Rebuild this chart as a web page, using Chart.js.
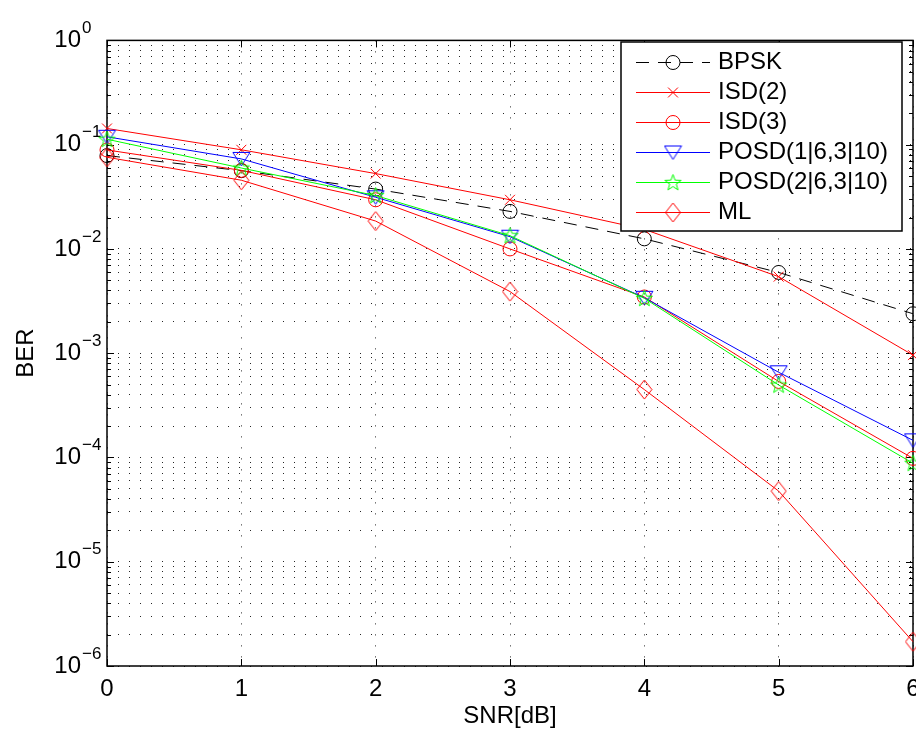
<!DOCTYPE html>
<html>
<head>
<meta charset="utf-8">
<script src="https://cdn.jsdelivr.net/npm/chart.js@4.4.0/dist/chart.umd.min.js"></script>
<style>
  html, body { margin: 0; padding: 0; overflow: hidden; background: #fff; }
  #wrap { width: 960px; height: 735px; }
</style>
</head>
<body>
<div id="wrap"><canvas id="c" width="960" height="735"></canvas></div>
<script>
// --- data ---
const SNR = [0, 1, 2, 3, 4, 5, 6];
const BPSK  = [0.0786, 0.0563, 0.0375, 0.0229, 0.0125, 0.00595, 0.00239];
const ISD2  = [0.143, 0.0893, 0.0528, 0.0296, 0.0154, 0.00542, 0.000958];
const ISD3  = [0.089, 0.0567, 0.0296, 0.0100, 0.00346, 0.000536, 0.000098];
const POSD1 = [0.119, 0.073, 0.0313, 0.0131, 0.00340, 0.000656, 0.000146];
const POSD2 = [0.1127, 0.0597, 0.0325, 0.0134, 0.00336, 0.000495, 0.000088];
const ML    = [0.0757, 0.0456, 0.0185, 0.0039, 0.000448, 0.0000476, 0.00000171];

const X_TICKS = [0, 1, 2, 3, 4, 5, 6];
const Y_DECADES = [-6, -5, -4, -3, -2, -1, 0];
const LABELS = ['BPSK', 'ISD(2)', 'ISD(3)', 'POSD(1|6,3|10)', 'POSD(2|6,3|10)', 'ML'];

const FAMILY = "'Liberation Sans', 'DejaVu Sans', Arial, sans-serif";
const FONT = { family: FAMILY, size: 24 };
const GRID = 'rgba(0,0,0,0.85)';

// --- marker shapes (matlab style) ---
function markerCanvas(w, h, color, path) {
  const c = document.createElement('canvas');
  c.width = w; c.height = h;
  const g = c.getContext('2d');
  g.strokeStyle = color;
  g.lineWidth = 1;
  g.beginPath();
  path(g, w, h);
  g.closePath();
  g.stroke();
  return c;
}
const triDown = markerCanvas(19, 16, '#0000ff', (g, w, h) => {
  g.moveTo(1, 1.5); g.lineTo(w - 1, 1.5); g.lineTo(w / 2, h - 1);
});
const star5 = markerCanvas(19, 19, '#00ff00', (g, w, h) => {
  const cx = w / 2, cy = h / 2 + 0.5;
  for (let i = 0; i < 10; i++) {
    const r = i % 2 ? 3.5 : 8.5;
    const a = -Math.PI / 2 + i * Math.PI / 5;
    const px = cx + r * Math.cos(a), py = cy + r * Math.sin(a);
    if (i) g.lineTo(px, py); else g.moveTo(px, py);
  }
});
const diamond = markerCanvas(17, 21, '#ff0000', (g, w, h) => {
  g.moveTo(w / 2, 1); g.lineTo(w - 1, h / 2); g.lineTo(w / 2, h - 1); g.lineTo(1, h / 2);
});

function series(label, vals, color, style, extra) {
  return Object.assign({
    label,
    data: SNR.map((x, i) => ({ x, y: vals[i] })),
    borderColor: color,
    backgroundColor: 'transparent',
    borderWidth: 1,
    pointStyle: style,
    pointRadius: 7,
    pointBorderWidth: 1,
    pointBorderColor: color,
    pointBackgroundColor: 'transparent',
    tension: 0,
    clip: false,
    fill: false,
  }, extra || {});
}

const isDecade = v => {
  const e = Math.round(Math.log10(v));
  return Math.abs(v / Math.pow(10, e) - 1) < 1e-6;
};

// inward ticks + box + exponents of the y labels
const frame = {
  id: 'frame',
  beforeDatasetsDraw(chart) {
    const { ctx, chartArea: a, scales: { x, y } } = chart;
    ctx.save();
    ctx.strokeStyle = '#000';
    ctx.lineWidth = 1;
    ctx.setLineDash([]);
    ctx.beginPath();
    X_TICKS.forEach(v => {
      const px = Math.round(x.getPixelForValue(v)) + 0.5;
      ctx.moveTo(px, a.bottom); ctx.lineTo(px, a.bottom - 7);
      ctx.moveTo(px, a.top); ctx.lineTo(px, a.top + 7);
    });
    y.ticks.forEach(t => {
      const py = Math.round(y.getPixelForValue(t.value)) + 0.5;
      const L = isDecade(t.value) ? 7 : 4;
      ctx.moveTo(a.left, py); ctx.lineTo(a.left + L, py);
      ctx.moveTo(a.right, py); ctx.lineTo(a.right - L, py);
    });
    ctx.stroke();
    ctx.lineWidth = 1.5;
    ctx.strokeRect(a.left, a.top, a.right - a.left, a.bottom - a.top);

    // exponent part of 10^n
    ctx.fillStyle = '#000';
    ctx.font = '17px ' + FAMILY;
    ctx.textAlign = 'left';
    ctx.textBaseline = 'middle';
    y.ticks.forEach(t => {
      if (!isDecade(t.value)) return;
      const e = Math.round(Math.log10(t.value));
      const py = y.getPixelForValue(t.value);
      ctx.fillText(e === 0 ? '0' : '\u2212' + Math.abs(e), 82, py - 12);
    });
    ctx.restore();
  },
};

// legend box inside the axes, top right
const legendBox = {
  id: 'legendBox',
  afterDraw(chart) {
    const ctx = chart.ctx;
    const L = 621, T = 42, W = 281, H = 189, ROW = 30;
    ctx.save();
    ctx.fillStyle = '#fff';
    ctx.fillRect(L, T, W, H);
    ctx.strokeStyle = '#000';
    ctx.lineWidth = 1.5;
    ctx.strokeRect(L, T, W, H);
    chart.data.datasets.forEach((ds, i) => {
      const yy = Math.round(T + 20 + i * ROW) + 0.5;
      ctx.strokeStyle = ds.borderColor;
      ctx.lineWidth = ds.borderWidth;
      ctx.setLineDash(ds.borderDash || []);
      ctx.beginPath();
      ctx.moveTo(636, yy);
      ctx.lineTo(710, yy);
      ctx.stroke();
      ctx.setLineDash([]);
      ctx.fillStyle = 'transparent';
      Chart.helpers.drawPoint(ctx, {
        pointStyle: ds.pointStyle, radius: ds.pointRadius, rotation: 0, borderWidth: 1,
      }, 673, yy);
      ctx.fillStyle = '#000';
      ctx.font = FONT.size + 'px ' + FAMILY;
      ctx.textBaseline = 'middle';
      ctx.textAlign = 'left';
      ctx.fillText(ds.label, 718, yy);
    });
    ctx.restore();
  },
};

new Chart(document.getElementById('c'), {
  type: 'line',
  plugins: [frame, legendBox],
  data: {
    datasets: [
      series(LABELS[0], BPSK, '#000000', 'circle', { borderDash: [13, 9], order: 6 }),
      series(LABELS[1], ISD2, '#ff0000', 'crossRot', { order: 5 }),
      series(LABELS[2], ISD3, '#ff0000', 'circle', { order: 4 }),
      series(LABELS[3], POSD1, '#0000ff', triDown, { order: 3 }),
      series(LABELS[4], POSD2, '#00ff00', star5, { order: 2 }),
      series(LABELS[5], ML, '#ff0000', diamond, { order: 1 }),
    ],
  },
  options: {
    responsive: false,
    animation: false,
    events: [],
    layout: { padding: { top: 29, right: 47, bottom: 0, left: 0 } },
    plugins: { legend: { display: false }, tooltip: { enabled: false } },
    scales: {
      x: {
        type: 'linear',
        min: 0,
        max: 6,
        afterBuildTicks: s => { s.ticks = X_TICKS.map(v => ({ value: v })); },
        afterFit: s => { s.height = 69; },
        grid: { color: GRID, lineWidth: 1, drawTicks: false },
        border: { display: false, dash: [1, 10] },
        ticks: { font: FONT, color: '#000', padding: 9, maxRotation: 0 },
        title: { display: true, text: 'SNR[dB]', font: FONT, color: '#000', padding: { top: 0, bottom: 4 } },
      },
      y: {
        type: 'logarithmic',
        min: 1e-6,
        max: 1,
        afterBuildTicks: s => {
          const t = [];
          Y_DECADES.forEach(e => {
            for (let m = 1; m <= 9; m++) {
              const v = m * Math.pow(10, e);
              if (v <= 1.0000001) t.push({ value: v });
            }
          });
          s.ticks = t;
        },
        afterFit: s => { s.width = 107; },
        grid: { color: GRID, lineWidth: 1, drawTicks: false },
        border: { display: false, dash: [1, 10] },
        ticks: {
          font: FONT,
          color: '#000',
          padding: 26,
          autoSkip: false,
          callback: v => (isDecade(v) ? '10' : ''),
        },
        title: { display: true, text: 'BER', font: FONT, color: '#000', padding: { top: 12, bottom: 0 } },
      },
    },
  },
});
</script>
</body>
</html>
